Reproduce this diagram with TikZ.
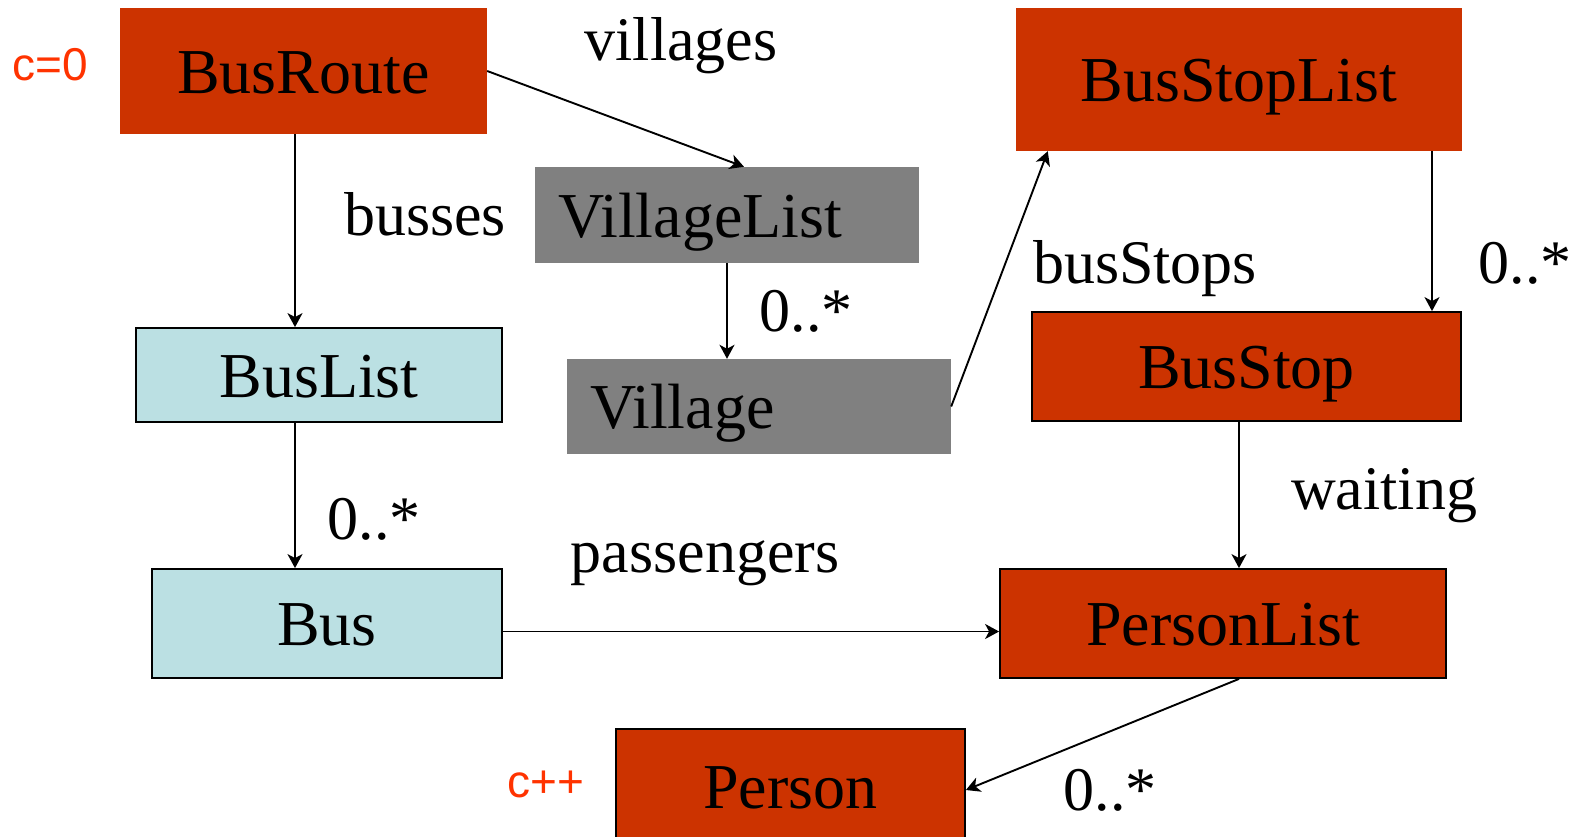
\documentclass[tikz,border=0pt]{standalone}
\usepackage{fontspec}
\setmainfont{Liberation Serif}
\newfontfamily\countfont{Liberation Sans}
\usepackage{tikz}
\usetikzlibrary{arrows.meta, positioning}

\definecolor{rust}{HTML}{CC3300}
\definecolor{paleblue}{HTML}{BBE0E3}
\definecolor{midgrey}{HTML}{808080}
\definecolor{counterred}{HTML}{FF3300}

\begin{document}
\begin{tikzpicture}[x=1pt, y=-1pt,
        cls/.style={rectangle, inner sep=0pt, text height=44pt, text depth=0pt, font=\fontsize{64}{70}\selectfont},
        redcls/.style={cls, fill=rust},
        redframed/.style={redcls, draw=black, line width=1.8pt},
        bluecls/.style={cls, fill=paleblue, draw=black, line width=1.8pt},
        greycls/.style={cls, fill=midgrey, align=left, inner xsep=23pt},
        role/.style={anchor=base, inner sep=0pt, font=\fontsize{62}{70}\selectfont},
        counter/.style={anchor=base, inner sep=0pt, text=counterred, font=\countfont\fontsize{46}{50}\selectfont},
        assoc/.style={-{Stealth[length=14pt, width=15pt, inset=4pt]}, line width=1.9pt}]
        \useasboundingbox (0,0) rectangle (1580,836);
        % \tikzstyle{every node}=[font=\Large]
        \node[redcls, minimum width=367pt, minimum height=126pt] (busRoute) at (303.5,71) {BusRoute};
        \node[greycls, text width=338pt, minimum height=96pt] (villageList) at (727,215) {VillageList};
        \node[greycls, text width=338pt, minimum height=95pt] (village) at (759,406.5) {Village};
        \node[redcls, minimum width=446pt, minimum height=143pt] (busStopList) at (1239,79.5) {BusStopList};
        \node[bluecls, minimum width=366pt, minimum height=94pt] (busList) at (319,375) {BusList};
        \node[redframed, minimum width=429pt, minimum height=109pt] (busStop) at (1246.5,366.5) {BusStop};
        \node[bluecls, minimum width=350pt, minimum height=109pt] (bus) at (327,623.5) {Bus};
        \node[redframed, minimum width=446pt, minimum height=109pt] (personList) at (1223,623.5) {PersonList};
        \node[redframed, minimum width=349pt, minimum height=114pt] (person) at (790.5,786) {Person};

        \node[counter] (cZero) at (50.5,80) {c=0};
        \node[counter] (cInc) at (546,797) {c++};

        \node[role] (lblVillages) at (681,60) {villages};
        \node[role] (lblBusses) at (425,235) {busses};
        \node[role] (lblManyVillage) at (806,331) {0..*};
        \node[role] (lblBusStops) at (1145,283) {busStops};
        \node[role] (lblManyStop) at (1525,283) {0..*};
        \node[role] (lblWaiting) at (1384,509) {waiting};
        \node[role] (lblManyBus) at (374,539) {0..*};
        \node[role] (lblPassengers) at (705,572) {passengers};
        \node[role] (lblManyPerson) at (1110,810) {0..*};

        \coordinate (colBus) at (295,0);
        \coordinate (colStop) at (1432,0);
        \coordinate (colWait) at (1239,0);

        \path[assoc] (busRoute.south -| colBus) edge (busList.north -| colBus);
        \path[assoc] (busRoute.east) edge ([xshift=17pt]villageList.north);
        \path[assoc] (villageList.south) edge (village.north -| villageList.south);
        \path[assoc] (busList.south -| colBus) edge (bus.north -| colBus);
        \path[assoc] (village.east) edge ([xshift=32pt]busStopList.south west);
        \path[assoc] (busStopList.south -| colStop) edge (busStop.north -| colStop);
        \path[assoc] (busStop.south -| colWait) edge (personList.north -| colWait);
        \path[assoc] ([yshift=-8pt]bus.east) edge ([yshift=-8pt]personList.west);
        \path[assoc] (personList.south -| colWait) edge ([yshift=-4pt]person.east);
    \end{tikzpicture}
\end{document}
